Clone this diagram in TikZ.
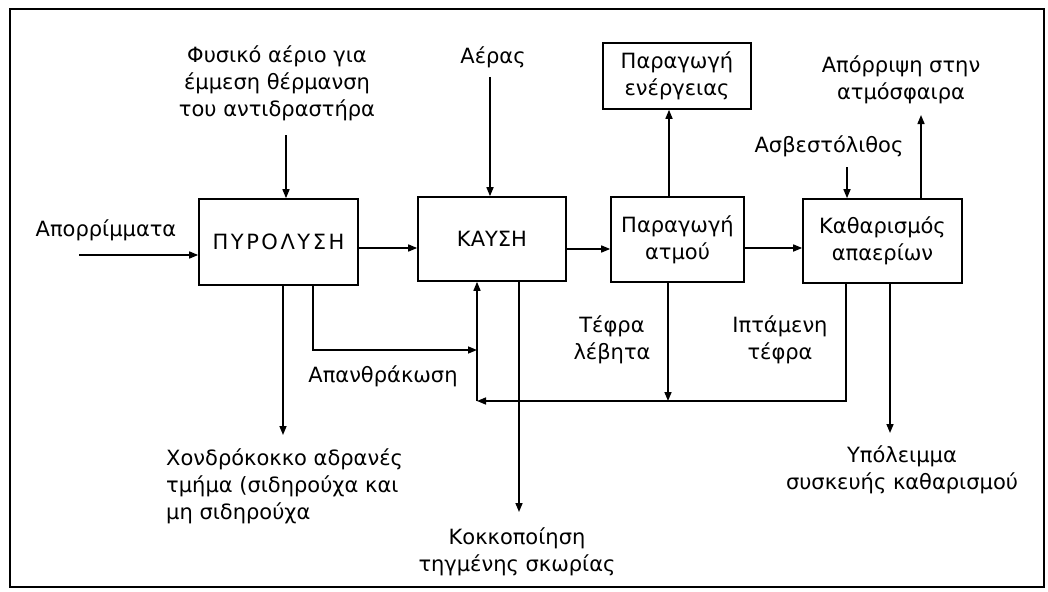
\documentclass[tikz,border=0pt]{standalone}
\usepackage{fontspec}
\setmainfont{DejaVu Sans}
\usetikzlibrary{arrows.meta}
\begin{document}
\begin{tikzpicture}[x=1pt,y=-1pt,
  box/.style={draw,line width=1.6pt,inner sep=0pt,align=center,font=\fontsize{21}{27}\selectfont},
  lbl/.style={inner sep=0pt,align=center,font=\fontsize{21}{27}\selectfont},
  arr/.style={line width=1.5pt,-{Triangle[length=9pt,width=7pt]}},
  ln/.style={line width=1.5pt}]
\useasboundingbox (0,0) rectangle (1048,591);
\draw[line width=1.8pt] (10,9) rectangle (1044,587);
% boxes
\node[box,minimum width=159pt,minimum height=86pt] (pyr) at (278.5,242) {\addfontfeature{LetterSpace=12}ΠΥΡΟΛΥΣΗ};
\node[box,minimum width=148pt,minimum height=84pt] (kay) at (492,239) {ΚΑΥΣΗ};
\node[box,minimum width=133pt,minimum height=85pt] (atm) at (677.5,239.5) {Παραγωγή\\ατμού};
\node[box,minimum width=159pt,minimum height=84pt] (kath) at (882.5,241) {Καθαρισμός\\απαερίων};
\node[box,minimum width=148pt,minimum height=66pt] (ener) at (677,76) {Παραγωγή\\ενέργειας};
% labels
\node[lbl] (fys) at (277,83) {Φυσικό αέριο για\\έμμεση θέρμανση\\του αντιδραστήρα};
\node[lbl] (aer) at (493,57) {Αέρας};
\node[lbl] (apor) at (901,80) {Απόρριψη στην\\ατμόσφαιρα};
\node[lbl] (asv) at (829,146) {Ασβεστόλιθος};
\node[lbl] (apr) at (106,230) {Απορρίμματα};
\node[lbl,anchor=west,align=left] (xon) at (166,486) {Χονδρόκοκκο αδρανές\\τμήμα (σιδηρούχα και\\μη σιδηρούχα};
\node[lbl] (apan) at (383,376) {Απανθράκωση};
\node[lbl] (kok) at (517,552) {Κοκκοποίηση\\τηγμένης σκωρίας};
\node[lbl] (tef) at (612,340) {Τέφρα\\λέβητα};
\node[lbl] (ipt) at (780,340) {Ιπτάμενη\\τέφρα};
\node[lbl] (ypo) at (902,470) {Υπόλειμμα\\συσκευής καθαρισμού};
% coordinates
\coordinate (aprS) at (79,255);
\coordinate (fysS) at (286,135);
\coordinate (aerS) at (490,77);
\coordinate (asvS) at (847,167);
\coordinate (aporE) at (921,115);
\coordinate (xonE) at (283,435);
\coordinate (kokE) at (519,512);
\coordinate (ypoE) at (890,433);
\coordinate (apanC) at (313,350);
\coordinate (retC) at (477,401);
% main flow
\draw[arr] (aprS) -- (aprS -| pyr.west);
\draw[arr] (fysS) -- (fysS |- pyr.north);
\draw[arr] (aerS) -- (aerS |- kay.north);
\draw[arr] (pyr.east |- 0,248) -- (kay.west |- 0,248);
\draw[arr] (kay.east |- 0,249) -- (atm.west |- 0,249);
\draw[arr] (atm.east |- 0,248) -- (kath.west |- 0,248);
\draw[arr] (atm.north -| 669,0) -- (ener.south -| 669,0);
\draw[arr] (asvS) -- (asvS |- kath.north);
\draw[arr] (kath.north -| aporE) -- (aporE);
% outputs down
\draw[arr] (pyr.south -| xonE) -- (xonE);
\draw[arr] (kay.south -| kokE) -- (kokE);
\draw[arr] (kath.south -| ypoE) -- (ypoE);
% char
\draw[arr] (pyr.south -| apanC) -- (apanC) -- (apanC -| retC);
% ash return
\draw[arr] (atm.south -| 668,0) -- (retC -| 668,0);
\draw[arr] (kath.south -| 846,0) -- (retC -| 846,0) -- (retC);
\draw[arr] (retC) -- (retC |- kay.south);
\end{tikzpicture}
\end{document}
